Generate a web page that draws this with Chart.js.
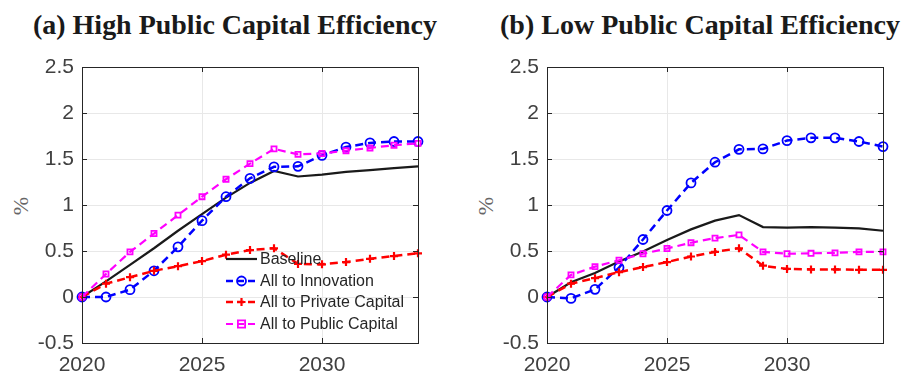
<!DOCTYPE html>
<html lang="en">
<head>
    <meta charset="UTF-8">
    <title>Public Capital Efficiency</title>
    <script src="https://cdn.jsdelivr.net/npm/chart.js"></script>
    <style>
        body { margin: 0; background: #fff; width: 902px; height: 373px; overflow: hidden; position: relative; }
        .panel { position: absolute; top: 0; }
        .title { position: absolute; top: 9px; font-family: "Liberation Serif", serif; font-weight: bold; color: #1a1a1a; white-space: nowrap; font-size: 27px; }
        .ylabel { position: absolute; top: 193px; font-family: "Liberation Serif", serif; font-size: 22px; color: #666; transform: rotate(-90deg); }
    </style>
</head>
<body>
    <div class="title" id="titleA" style="left:33px;">(a) High Public Capital Efficiency</div>
    <div class="title" id="titleB" style="left:500px;">(b) Low Public Capital Efficiency</div>
    <div class="ylabel" style="left:12px;">%</div>
    <div class="ylabel" style="left:477px;">%</div>
    <canvas id="chartA" class="panel" width="450" height="373" style="left:0;"></canvas>
    <canvas id="chartB" class="panel" width="452" height="373" style="left:450px;"></canvas>

    <script>
        const years = [2020, 2021, 2022, 2023, 2024, 2025, 2026, 2027, 2028, 2029, 2030, 2031, 2032, 2033, 2034];
        const yTicks = [-0.5, 0, 0.5, 1, 1.5, 2, 2.5];
        const xTicks = [2020, 2025, 2030];
        const seriesNames = ['Baseline', 'All to Innovation', 'All to Private Capital', 'All to Public Capital'];

        // (a) high public capital efficiency
        const highBaseline   = [0, 0.17, 0.35, 0.53, 0.72, 0.90, 1.08, 1.24, 1.37, 1.31, 1.33, 1.36, 1.38, 1.40, 1.42];
        const highInnovation = [0, 0.00, 0.08, 0.285, 0.545, 0.83, 1.09, 1.29, 1.415, 1.42, 1.54, 1.63, 1.675, 1.69, 1.69];
        const highPrivate    = [0, 0.145, 0.215, 0.285, 0.335, 0.39, 0.46, 0.51, 0.53, 0.36, 0.355, 0.38, 0.415, 0.445, 0.475];
        const highPublic     = [0, 0.25, 0.49, 0.69, 0.89, 1.09, 1.28, 1.45, 1.61, 1.55, 1.56, 1.59, 1.62, 1.65, 1.67];

        // (b) low public capital efficiency
        const lowBaseline   = [0, 0.16, 0.26, 0.385, 0.495, 0.62, 0.735, 0.83, 0.89, 0.76, 0.755, 0.76, 0.755, 0.745, 0.72];
        const lowInnovation = [0, -0.015, 0.083, 0.32, 0.625, 0.94, 1.24, 1.465, 1.605, 1.61, 1.70, 1.73, 1.73, 1.69, 1.635];
        const lowPrivate    = [0, 0.145, 0.205, 0.27, 0.325, 0.38, 0.44, 0.49, 0.53, 0.34, 0.305, 0.30, 0.30, 0.295, 0.295];
        const lowPublic     = [0, 0.24, 0.33, 0.40, 0.47, 0.527, 0.59, 0.64, 0.675, 0.49, 0.47, 0.475, 0.48, 0.49, 0.49];

        const styles = [
            { color: '#1a1a1a', width: 2.2, dash: [], marker: null, order: 4 },
            { color: '#0000ff', width: 2.5, dash: [8, 5], marker: 'circle', radius: 4.5, order: 3 },
            { color: '#ff0000', width: 2.5, dash: [8, 5], marker: 'cross', radius: 4, order: 2 },
            { color: '#ff00ff', width: 2.2, dash: [8, 5], marker: 'rect', radius: 3.6, order: 1 }
        ];

        function pts(values) {
            return years.map((y, i) => ({ x: y, y: values[i] }));
        }

        function makeDatasets(lists) {
            return lists.map((vals, i) => {
                const s = styles[i];
                return {
                    label: seriesNames[i],
                    data: pts(vals),
                    borderColor: s.color,
                    borderWidth: s.width,
                    borderDash: s.dash,
                    pointStyle: s.marker || 'circle',
                    pointRadius: s.marker ? s.radius : 0,
                    pointBorderWidth: s.marker === 'cross' ? 2.2 : 1.8,
                    pointBorderColor: s.color,
                    pointBackgroundColor: 'rgba(0,0,0,0)',
                    tension: 0,
                    fill: false,
                    clip: false,
                    order: s.order
                };
            });
        }

        // axes box with inward ticks, drawn like the original figure
        const boxPlugin = {
            id: 'box',
            afterDraw(chart) {
                const { ctx, chartArea: a, scales } = chart;
                ctx.save();
                ctx.strokeStyle = '#262626';
                ctx.lineWidth = 1;
                ctx.strokeRect(Math.round(a.left) + 0.5, Math.round(a.top) + 0.5, Math.round(a.right - a.left), Math.round(a.bottom - a.top));
                ctx.beginPath();
                yTicks.forEach(v => {
                    const y = Math.round(scales.y.getPixelForValue(v)) + 0.5;
                    ctx.moveTo(a.left, y); ctx.lineTo(a.left + 5, y);
                    ctx.moveTo(a.right, y); ctx.lineTo(a.right - 5, y);
                });
                xTicks.forEach(v => {
                    const x = Math.round(scales.x.getPixelForValue(v)) + 0.5;
                    ctx.moveTo(x, a.bottom); ctx.lineTo(x, a.bottom - 5);
                    ctx.moveTo(x, a.top); ctx.lineTo(x, a.top + 5);
                });
                ctx.stroke();
                ctx.restore();
            }
        };

        function drawMarker(ctx, s, x, y) {
            ctx.save();
            ctx.setLineDash([]);
            ctx.strokeStyle = s.color;
            ctx.lineWidth = s.marker === 'cross' ? 2.2 : 1.8;
            ctx.beginPath();
            if (s.marker === 'circle') {
                ctx.arc(x, y, s.radius, 0, Math.PI * 2);
            } else if (s.marker === 'rect') {
                ctx.rect(x - s.radius, y - s.radius, s.radius * 2, s.radius * 2);
            } else if (s.marker === 'cross') {
                ctx.moveTo(x - s.radius, y); ctx.lineTo(x + s.radius, y);
                ctx.moveTo(x, y - s.radius); ctx.lineTo(x, y + s.radius);
            }
            ctx.stroke();
            ctx.restore();
        }

        // legend sits inside the left panel, no frame
        const legendPlugin = {
            id: 'insideLegend',
            afterDraw(chart) {
                const ctx = chart.ctx;
                const rows = [259, 281, 302, 324];
                ctx.save();
                ctx.font = '16px "Liberation Sans", Arial, sans-serif';
                ctx.fillStyle = '#262626';
                ctx.textBaseline = 'middle';
                styles.forEach((s, i) => {
                    const y = rows[i];
                    ctx.save();
                    ctx.strokeStyle = s.color;
                    ctx.lineWidth = s.width;
                    ctx.setLineDash(s.dash.length ? [7, 4] : []);
                    ctx.beginPath();
                    ctx.moveTo(226, y); ctx.lineTo(257, y);
                    ctx.stroke();
                    ctx.restore();
                    if (s.marker) drawMarker(ctx, s, 241.5, y);
                    ctx.fillText(seriesNames[i], 260, y + 1);
                });
                ctx.restore();
            }
        };

        function makeChart(id, lists, leftW, rightPad, withLegend) {
            return new Chart(document.getElementById(id), {
                type: 'line',
                data: { datasets: makeDatasets(lists) },
                options: {
                    responsive: false,
                    animation: false,
                    layout: { padding: { top: 67, right: rightPad, bottom: 0, left: 0 } },
                    plugins: { legend: { display: false }, tooltip: { enabled: false } },
                    scales: {
                        x: {
                            type: 'linear',
                            min: 2020,
                            max: 2034,
                            afterFit: scale => { scale.height = 30; },
                            afterBuildTicks: scale => { scale.ticks = xTicks.map(v => ({ value: v })); },
                            grid: { color: '#e8e8e8', drawTicks: false },
                            border: { display: false },
                            ticks: {
                                padding: 10,
                                color: '#404040',
                                font: { family: '"Liberation Sans", Arial, sans-serif', size: 21 },
                                callback: v => String(v)
                            }
                        },
                        y: {
                            min: -0.5,
                            max: 2.5,
                            afterFit: scale => { scale.width = leftW; },
                            afterBuildTicks: scale => { scale.ticks = yTicks.map(v => ({ value: v })); },
                            grid: { color: '#e8e8e8', drawTicks: false },
                            border: { display: false },
                            ticks: {
                                padding: 8,
                                color: '#404040',
                                font: { family: '"Liberation Sans", Arial, sans-serif', size: 21 },
                                callback: v => String(v)
                            }
                        }
                    }
                },
                plugins: withLegend ? [boxPlugin, legendPlugin] : [boxPlugin]
            });
        }

        makeChart('chartA', [highBaseline, highInnovation, highPrivate, highPublic], 82, 32, true);
        makeChart('chartB', [lowBaseline, lowInnovation, lowPrivate, lowPublic], 97, 19, false);

        // fit titles to the width they take in the original
        [['titleA', 404], ['titleB', 400]].forEach(([id, w]) => {
            const el = document.getElementById(id);
            const cur = el.getBoundingClientRect().width;
            el.style.fontSize = (27 * w / cur).toFixed(2) + 'px';
        });
    </script>
</body>
</html>
